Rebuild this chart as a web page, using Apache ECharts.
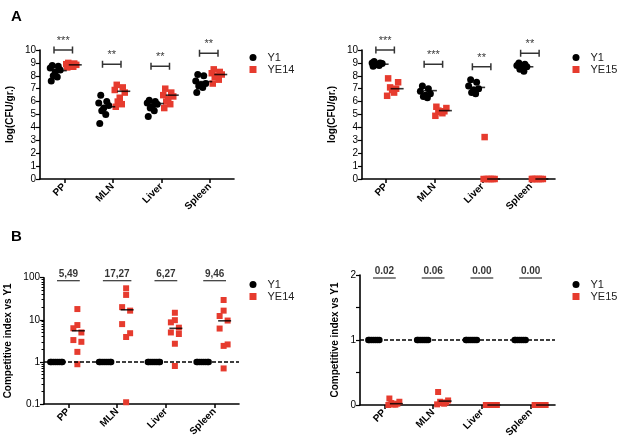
<!DOCTYPE html>
<html><head><meta charset="utf-8">
<script src="https://cdn.jsdelivr.net/npm/echarts@6/dist/echarts.min.js"></script>
<style>html,body{margin:0;padding:0;background:#fff}#c{width:620px;height:442px}</style>
</head><body><div id="c"></div><script>
const categories = ['PP','MLN','Liver','Spleen'];
// ---- Panel A left: log(CFU/gr.) Y1 vs YE14
const aLeftY1 = [
  [8.8,8.75,8.6,8.45,8.3,8.0,7.9,7.6],
  [6.5,6.0,5.9,5.7,5.5,5.3,5.0,4.3],
  [6.1,6.0,5.9,5.8,5.6,5.5,5.3,4.85],
  [8.1,8.0,7.6,7.4,7.3,7.2,7.1,6.7]];
const aLeftYE14 = [
  [9.0,8.95,8.9,8.85,8.8,8.75,8.7,8.65],
  [7.3,7.1,6.9,6.7,6.3,6.0,5.8,5.6],
  [7.0,6.7,6.5,6.4,6.2,6.0,5.8,5.5],
  [8.5,8.3,8.2,8.1,8.0,7.9,7.7,7.4]];
const aLeftY1Median = [8.4,5.6,5.85,7.55];
const aLeftYE14Median = [8.85,6.8,6.5,8.1];
const aLeftSig = ['***','**','**','**'];
const aLeftSigLevel = [10.0,8.9,8.75,9.75];
// ---- Panel A right: log(CFU/gr.) Y1 vs YE15
const aRightY1 = [
  [9.1,9.0,9.0,8.95,8.9,8.85,8.8,8.75],
  [7.2,7.0,6.8,6.6,6.5,6.4,6.3],
  [7.7,7.5,7.2,7.0,6.9,6.7,6.6],
  [9.0,8.9,8.8,8.7,8.6,8.5,8.35]];
const aRightYE15 = [
  [7.8,7.5,7.1,7.0,6.9,6.7,6.45],
  [5.6,5.5,5.3,5.25,5.2,5.1,4.9],
  [3.25,0,0,0,0,0,0],
  [0,0,0,0,0,0,0]];
const aRightY1Median = [8.9,6.85,7.1,8.7];
const aRightYE15Median = [7.0,5.3,0,0];
const aRightSig = ['***','***','**','**'];
const aRightSigLevel = [10.0,8.9,8.7,9.75];
// ---- Panel B left: competitive index vs Y1 (log)
const bLeftY1 = [
  [1,1,1,1,1,1,1,1],[1,1,1,1,1,1,1,1],[1,1,1,1,1,1,1,1],[1,1,1,1,1,1,1,1]];
const bLeftYE14 = [
  [18,7.5,6.3,5.0,3.3,3.0,1.73,0.88],
  [56,39,20,16.5,7.9,4.8,3.9,0.11],
  [14.7,9.8,8.7,6.5,5.0,4.6,2.7,0.8],
  [29.5,16.5,12.3,9.6,6.2,2.6,2.4,0.7]];
const bLeftYE14Median = [5.49,17.27,6.27,9.46];
const bLeftLabels = ['5,49','17,27','6,27','9,46'];
// ---- Panel B right: competitive index vs Y1
const bRightY1 = [
  [1,1,1,1,1,1,1],[1,1,1,1,1,1,1],[1,1,1,1,1,1,1],[1,1,1,1,1,1,1]];
const bRightYE15 = [
  [0.1,0.05,0.03,0.02,0.01,0.005,0],
  [0.2,0.07,0.05,0.04,0.03,0.02,0.01],
  [0,0,0,0,0,0,0],
  [0,0,0,0,0,0,0]];
const bRightYE15Median = [0.02,0.06,0,0];
const bRightLabels = ['0.02','0.06','0.00','0.00'];

// ---- styles
const FONT = 'Liberation Sans, Arial, Helvetica, sans-serif';
const RED = '#e63b2e';
const JIT_A = [-3,3,-5,5,0,-2,2,-4];
const JIT_B = [0,0,-4,4,-4,4,0,0];
const JIT_FLAT = [-5,5,-3,3,-1,1,-6,6];
const BRACKET = 'path://M0,0h3v14h-3z M0,5.5h40v3h-40z M37,0h3v14h-3z';

function pts(name, g, groups, base, jit, symbol, size, color){
  const data = [];
  groups.forEach((vals,c)=>vals.forEach((v,i)=>{
    data.push({value:[c,v], symbolOffset:[base+jit[i%jit.length],0]});
  }));
  return {type:'scatter', name, xAxisIndex:g, yAxisIndex:g, symbol, symbolSize:size,
    itemStyle:{color, opacity:1}, data, clip:false, z:3, silent:true, animation:false};
}
function med(g, vals, base){
  return {type:'scatter', name:'med'+g+base, xAxisIndex:g, yAxisIndex:g, symbol:'rect',
    symbolSize:[13,1.6], symbolOffset:[base,0], itemStyle:{color:'#000'},
    data: vals.map((v,c)=>[c,v]), clip:false, z:5, silent:true, animation:false};
}
function sig(g, levels, texts){
  return {type:'scatter', name:'sig'+g, xAxisIndex:g, yAxisIndex:g, symbol:BRACKET,
    symbolSize:[20,7], symbolOffset:[-1,0], itemStyle:{color:'#000'},
    data: levels.map((v,c)=>({value:[c,v], label:{formatter:texts[c]}})),
    label:{show:true, position:'top', distance:0, color:'#000', fontSize:11, fontFamily:FONT},
    clip:false, z:5, silent:true, animation:false};
}
function ci(g, level, texts){
  return {type:'scatter', name:'ci'+g, xAxisIndex:g, yAxisIndex:g, symbol:'rect',
    itemStyle:{color:'#000'},
    data: texts.map((t,c)=>({value:[c,level], symbolSize:[t.length*5.7,1.2], symbolOffset:[0,3], label:{formatter:t}})),
    label:{show:true, position:'top', distance:1, color:'#000', fontSize:10, fontWeight:'bold', fontFamily:FONT},
    clip:false, z:5, silent:true, animation:false};
}
const dashLine = {silent:true, symbol:'none', label:{show:false},
  lineStyle:{color:'#000', type:[4,2], width:1.5}, data:[{yAxis:1}], animation:false};

const grids = [
  {left:40, top:50, width:194, height:129},
  {left:362, top:50, width:193, height:129},
  {left:44, top:277.7, width:195, height:126.3},
  {left:360, top:275, width:195, height:130}];
const axisLine = {show:true, lineStyle:{color:'#000', width:1.6}};
const xAxes = grids.map((g,i)=>({type:'category', gridIndex:i, data:categories,
  axisLine, axisTick:{show:true, alignWithLabel:true, length:4, lineStyle:{color:'#000',width:1.5}},
  axisLabel:{rotate:45, margin:6, fontSize:10, fontWeight:'bold', color:'#000', fontFamily:FONT},
  splitLine:{show:false}}));
const yName = {nameLocation:'middle', nameTextStyle:{fontSize:10, fontWeight:'bold', color:'#000', fontFamily:FONT}};
const yLab = {fontSize:10, color:'#000', margin:4, fontFamily:FONT};
const yTick = {show:true, length:4, lineStyle:{color:'#000', width:1.2}};
const yAxes = [
  Object.assign({type:'value', gridIndex:0, min:0, max:10, interval:1, name:'log(CFU/gr.)', nameGap:25,
    axisLine, axisTick:yTick, axisLabel:yLab, splitLine:{show:false}}, yName),
  Object.assign({type:'value', gridIndex:1, min:0, max:10, interval:1, name:'log(CFU/gr.)', nameGap:25,
    axisLine, axisTick:yTick, axisLabel:yLab, splitLine:{show:false}}, yName),
  Object.assign({type:'log', gridIndex:2, min:0.1, max:100, logBase:10, name:'Competitive index vs Y1', nameGap:31,
    axisLine, axisTick:yTick, axisLabel:yLab, splitLine:{show:false},
    minorTick:{show:true, splitNumber:9, length:2.5, lineStyle:{color:'#000', width:1}}}, yName),
  Object.assign({type:'value', gridIndex:3, min:0, max:2, interval:0.5, name:'Competitive index vs Y1', nameGap:20,
    axisLine, axisTick:yTick, axisLabel:Object.assign({}, yLab, {formatter:v=> (v%1===0? String(v):'')}), splitLine:{show:false}}, yName)];

const legendBase = {orient:'vertical', itemWidth:7, itemHeight:7, itemGap:1, padding:0,
  textStyle:{fontSize:11, color:'#222', fontFamily:FONT, padding:[0,0,0,6]}, selectedMode:false};
const legends = [
  Object.assign({left:249.5, top:52, data:[{name:'Y1',icon:'circle'},{name:'YE14',icon:'rect'}]}, legendBase),
  Object.assign({left:572.5, top:52, data:[{name:'Y1',icon:'circle'},{name:'YE15',icon:'rect'}]}, legendBase),
  Object.assign({left:249.5, top:279, data:[{name:'Y1',icon:'circle'},{name:'YE14',icon:'rect'}]}, legendBase),
  Object.assign({left:572.5, top:279, data:[{name:'Y1',icon:'circle'},{name:'YE15',icon:'rect'}]}, legendBase)];

const bLeftY1Series = pts('Y1',2,bLeftY1,-12,JIT_FLAT,'circle',6.5,'#000');
bLeftY1Series.markLine = dashLine;
const bRightY1Series = pts('Y1',3,bRightY1,-10,JIT_FLAT,'circle',6.5,'#000');
bRightY1Series.markLine = dashLine;

const series = [
  pts('Y1',0,aLeftY1,-9,JIT_A,'circle',7,'#000'),
  pts('YE14',0,aLeftYE14,7,JIT_A,'rect',6.5,RED),
  med(0,aLeftY1Median,-4), med(0,aLeftYE14Median,11), sig(0,aLeftSigLevel,aLeftSig),
  pts('Y1',1,aRightY1,-9,JIT_A,'circle',7,'#000'),
  pts('YE15',1,aRightYE15,7,JIT_FLAT,'rect',6.5,RED),
  med(1,aRightY1Median,-4), med(1,aRightYE15Median,11), sig(1,aRightSigLevel,aRightSig),
  bLeftY1Series,
  pts('YE14',2,bLeftYE14,9,JIT_B,'rect',6,RED),
  med(2,bLeftYE14Median,10), ci(2,100,bLeftLabels),
  bRightY1Series,
  pts('YE15',3,bRightYE15,10,JIT_FLAT,'rect',6,RED),
  med(3,bRightYE15Median,12), ci(3,2,bRightLabels)];

const chart = echarts.init(document.getElementById('c'), null, {renderer:'canvas'});
chart.setOption({
  animation:false, backgroundColor:'#fff',
  title:[{text:'A', left:6, top:4, textStyle:{fontSize:15, fontWeight:'bold', color:'#000', fontFamily:FONT}},
         {text:'B', left:6, top:224, textStyle:{fontSize:15, fontWeight:'bold', color:'#000', fontFamily:FONT}}],
  grid:grids, xAxis:xAxes, yAxis:yAxes, legend:legends, series});
</script></body></html>
